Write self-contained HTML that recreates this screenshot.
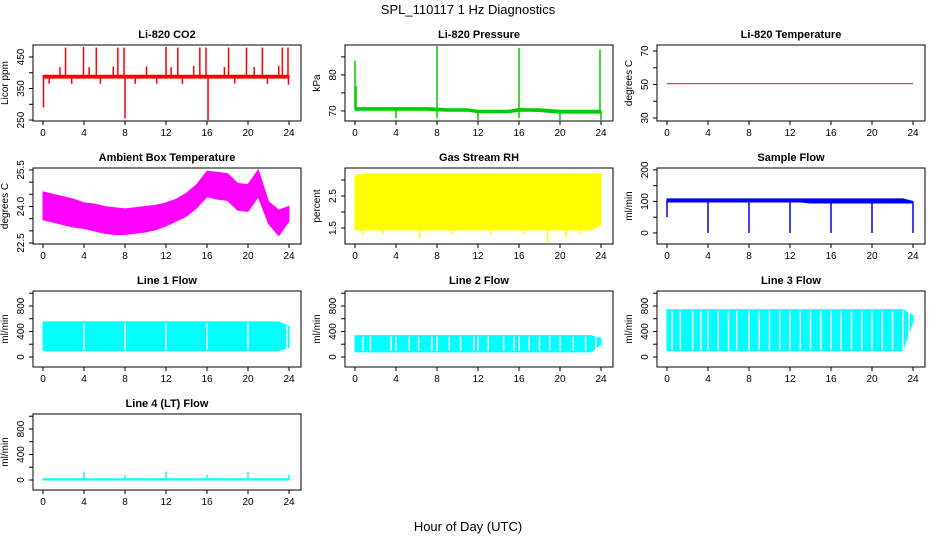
<!DOCTYPE html>
<html><head><meta charset="utf-8"><style>
html,body{margin:0;padding:0;background:#fff;}
svg{display:block;font-family:"Liberation Sans",sans-serif;}
</style></head><body>
<svg id="c" width="936" height="540" xmlns="http://www.w3.org/2000/svg">
<text x="468" y="14" text-anchor="middle" font-size="13">SPL_110117  1 Hz Diagnostics</text>
<text x="468" y="531" text-anchor="middle" font-size="13">Hour of Day (UTC)</text>
</svg>
<script>
const hours=[0,1,2,3,4,5,6,7,8,9,10,11,12,13,14,15,16,17,18,19,20,21,22,23,24];
const xTicks=[0,4,8,12,16,20,24];
// CO2
const co2Upper=[392,392,392,392,392,392,392,392,392,392,392,392,392,392,392,392,392,392,392,392,392,392,392,392,392];
const co2Lower=[383,383,383,383,383,383,383,383,383,383,383,383,383,383,383,383,383,383,383,383,383,383,383,383,383];
const co2SpikeHours=[2.2,3.95,5.2,7.3,7.9,12.0,13.15,15.3,15.9,18.1,19.85,21.4,23.35,23.9,1.65,4.5,6.85,10.1,12.5,14.7,17.7,20.6,23.0,8.0,16.1,0.05,0.6,2.8,5.6,9.0,11.1,13.6,18.7,21.9,23.95];
const co2SpikeVals=[480,482,480,480,480,482,480,480,480,480,480,480,480,480,418,418,420,420,418,422,418,418,422,255,250,290,365,365,365,365,365,365,365,365,362];
// Pressure
const presUpper=[70.9,70.9,70.9,70.9,70.9,70.9,70.9,70.9,70.8,70.6,70.6,70.6,70.2,70.2,70.2,70.2,70.7,70.6,70.6,70.4,70.2,70.2,70.2,70.2,70.2];
const presLower=[70.2,70.2,70.2,70.2,70.2,70.2,70.2,70.2,70.0,69.9,69.9,69.9,69.5,69.5,69.5,69.5,69.9,69.9,69.8,69.6,69.4,69.4,69.4,69.4,69.4];
const presSpikeHours=[0,0.1,8,16,23.9,4,8,12,16,20,24];
const presSpikeVals=[84,77,88,87.5,87,68,68,67.5,68,67.5,67.5];
// Temperature
const tempVals=[50.5,50.5,50.5,50.5,50.5,50.5,50.5,50.5,50.5,50.5,50.5,50.5,50.5,50.5,50.5,50.5,50.5,50.5,50.5,50.5,50.5,50.5,50.5,50.5,50.5];
// Ambient
const ambUpper=[24.6,24.5,24.4,24.3,24.15,24.1,24.0,23.95,23.9,23.95,24.0,24.05,24.15,24.3,24.55,24.9,25.45,25.4,25.35,24.95,24.9,25.5,24.2,23.85,24.0];
const ambLower=[23.45,23.35,23.25,23.15,23.1,23.0,22.9,22.85,22.85,22.9,22.95,23.05,23.2,23.4,23.6,23.95,24.4,24.3,24.25,23.85,23.8,24.4,23.3,22.8,23.4];
// RH
const rhUpper=[3.15,3.19,3.19,3.19,3.19,3.19,3.19,3.19,3.19,3.19,3.19,3.19,3.19,3.2,3.19,3.19,3.19,3.19,3.19,3.19,3.19,3.2,3.19,3.19,3.2];
const rhLower=[1.44,1.44,1.44,1.44,1.44,1.44,1.44,1.44,1.44,1.44,1.44,1.44,1.44,1.44,1.44,1.44,1.44,1.44,1.44,1.44,1.44,1.44,1.44,1.44,1.6];
const rhSpikeHours=[0.8,2.7,6.3,9.5,13.3,16.5,18.8,20.6,22];
const rhSpikeVals=[1.3,1.3,1.15,1.3,1.3,1.3,1.05,1.2,1.3];
// Sample flow
const sfUpper=[108,108,108,108,108,108,108,108,108,108,108,108,108,108,108,108,108,108,108,108,108,108,108,108,100];
const sfLower=[98,98,98,98,98,98,98,98,98,98,98,98,98,98,95,95,95,95,95,95,95,95,95,95,95];
const sfSpikeHours=[0,4,8,12,16,20,24];
const sfSpikeVals=[50,0,0,0,0,0,0];
// Line flows
const l1Upper=[550,550,550,550,550,550,550,550,550,550,550,550,550,550,550,550,550,550,550,550,550,550,550,550,480];
const l1Lower=[100,100,100,100,100,100,100,100,100,100,100,100,100,100,100,100,100,100,100,100,100,100,100,100,150];
const l1Gaps=[4,8,12,16,20,23.8];
const l2Upper=[335,335,335,335,335,335,335,335,335,335,335,335,335,335,335,335,335,335,335,335,335,335,335,335,290];
const l2Lower=[80,80,80,80,80,80,80,80,80,80,80,80,80,80,80,80,80,80,80,80,80,80,80,80,200];
const l2Gaps=[0.8,1.5,3.5,4,5.3,6.2,7.5,8,9.2,10.3,11.6,12,13,14.5,15.5,16,17,18,19,20,21.3,22.5,23.5];
const l3Upper=[740,740,740,740,740,740,740,740,740,740,740,740,740,740,740,740,740,740,740,740,740,740,740,740,650];
const l3Lower=[100,100,100,100,100,100,100,100,100,100,100,100,100,100,100,100,100,100,100,100,100,100,100,100,550];
const l3Gaps=[0.5,1.3,2.5,3.3,4,5,6,6.8,8,9,10,11,12,13,14,15,16,17,18,19,20,21,22,23,23.6];
const l4Upper=[20,20,20,20,20,20,20,20,20,20,20,20,20,20,20,20,20,20,20,20,20,20,20,20,20];
const l4Lower=[0,0,0,0,0,0,0,0,0,0,0,0,0,0,0,0,0,0,0,0,0,0,0,0,0];
const l4SpikeHours=[4,8,12,16,20,24];
const l4SpikeVals=[130,80,130,80,130,80];

const NS="http://www.w3.org/2000/svg";
const svg=document.getElementById('c');
function mk(tag,attrs,parent){const e=document.createElementNS(NS,tag);for(const k in attrs)e.setAttribute(k,attrs[k]);(parent||svg).appendChild(e);return e;}

function panel(o){
  const L=33+312*o.col,R=301+312*o.col,T=45+123*o.row,B=121+123*o.row;
  const g=mk('g',{});
  
  
  const sx=h=>43+312*o.col+h*(246/24);
  const sy=v=>B-(v-o.ylo)/(o.yhi-o.ylo)*(B-T);
  const t=mk('text',{x:(L+R)/2,y:T-7,'text-anchor':'middle','font-size':11,'font-weight':'bold'},g);
  t.textContent=o.title;
  
  
  if(o.upper){
    let pts=hours.map((h,i)=>sx(h)+','+sy(o.upper[i]));
    for(let i=hours.length-1;i>=0;i--)pts.push(sx(hours[i])+','+sy(o.lower[i]));
    const p=mk('polygon',{points:pts.join(' '),fill:o.color,stroke:o.color,'stroke-width':1},g);
    
    
  }
  if(o.line){
    const p=mk('polyline',{points:hours.map((h,i)=>sx(h)+','+sy(o.line[i])).join(' '),fill:'none',stroke:o.color,'stroke-width':1},g);
    
    
  }
  if(o.gaps){
    o.gaps.forEach(h=>{
      const i=Math.min(23,Math.floor(h));
      const l=mk('line',{x1:sx(h),x2:sx(h),y1:sy(o.upper[i])+1,y2:sy(o.lower[i])-1,stroke:'#fff','stroke-width':1.5},g);
      
      
    });
  }
  if(o.spH){
    o.spH.forEach((h,k)=>{
      const i=Math.min(24,Math.round(h));
      const base=(o.upper[i]+o.lower[i])/2;
      const l=mk('line',{x1:sx(h),x2:sx(h),y1:sy(base),y2:sy(o.spV[k]),stroke:o.color,'stroke-width':1.5},g);
      
      
    });
  }
  const b=mk('rect',{x:L,y:T,width:R-L,height:B-T,fill:'none',stroke:'#000','stroke-width':1},g);
  
  
  xTicks.forEach(h=>{
    mk('line',{x1:sx(h),x2:sx(h),y1:B,y2:B+4,stroke:'#000'},g);
    const tx=mk('text',{x:sx(h),y:B+15,'text-anchor':'middle','font-size':10},g);
    tx.textContent=h;
    
    
  });
  o.yt.forEach(v=>{
    mk('line',{x1:L-4,x2:L,y1:sy(v),y2:sy(v),stroke:'#000'},g);
  });
  o.yl.forEach(v=>{
    const tx=mk('text',{x:0,y:0,'text-anchor':'middle','font-size':10,transform:`translate(${L-9},${sy(v)}) rotate(-90)`},g);
    tx.textContent=v;
    
    
  });
  const yt=mk('text',{x:0,y:0,'text-anchor':'middle','font-size':10,transform:`translate(${L-25},${(T+B)/2}) rotate(-90)`},g);
  yt.textContent=o.ylab;
  
  
}

panel({name:'co2-panel',col:0,row:0,title:'Li-820 CO2',ylab:'Licor ppm',ylo:247,yhi:488,yt:[250,300,350,400,450],yl:['250','350','450'],color:'#ff0000',upper:co2Upper,lower:co2Lower,spH:co2SpikeHours,spV:co2SpikeVals});
panel({name:'pressure-panel',col:1,row:0,title:'Li-820 Pressure',ylab:'kPa',ylo:67.2,yhi:88.3,yt:[70,75,80,85],yl:['70','80'],color:'#00cc00',upper:presUpper,lower:presLower,spH:presSpikeHours,spV:presSpikeVals});
panel({name:'temperature-panel',col:2,row:0,title:'Li-820 Temperature',ylab:'degrees C',ylo:28.2,yhi:73.6,yt:[30,40,50,60,70],yl:['30','50','70'],color:'#cc00cc',line:tempVals});
panel({name:'ambient-temp-panel',col:0,row:1,title:'Ambient Box Temperature',ylab:'degrees C',ylo:22.46,yhi:25.58,yt:[22.5,23,23.5,24,24.5,25,25.5],yl:['22.5','24.0','25.5'],color:'#ff00ff',upper:ambUpper,lower:ambLower});
panel({name:'rh-panel',col:1,row:1,title:'Gas Stream RH',ylab:'percent',ylo:1.0,yhi:3.375,yt:[1.5,2,2.5,3],yl:['1.5','2.5'],color:'#ffff00',upper:rhUpper,lower:rhLower,spH:rhSpikeHours,spV:rhSpikeVals});
panel({name:'sample-flow-panel',col:2,row:1,title:'Sample Flow',ylab:'ml/min',ylo:-35,yhi:206,yt:[0,50,100,150,200],yl:['0','100','200'],color:'#0000ff',upper:sfUpper,lower:sfLower,spH:sfSpikeHours,spV:sfSpikeVals});
panel({name:'line1-flow-panel',col:0,row:2,title:'Line 1 Flow',ylab:'ml/min',ylo:-157,yhi:1035,yt:[0,200,400,600,800,1000],yl:['0','400','800'],color:'#00ffff',upper:l1Upper,lower:l1Lower,gaps:l1Gaps});
panel({name:'line2-flow-panel',col:1,row:2,title:'Line 2 Flow',ylab:'ml/min',ylo:-157,yhi:1035,yt:[0,200,400,600,800,1000],yl:['0','400','800'],color:'#00ffff',upper:l2Upper,lower:l2Lower,gaps:l2Gaps});
panel({name:'line3-flow-panel',col:2,row:2,title:'Line 3 Flow',ylab:'ml/min',ylo:-157,yhi:1035,yt:[0,200,400,600,800,1000],yl:['0','400','800'],color:'#00ffff',upper:l3Upper,lower:l3Lower,gaps:l3Gaps});
panel({name:'line4-flow-panel',col:0,row:3,title:'Line 4 (LT) Flow',ylab:'ml/min',ylo:-157,yhi:1035,yt:[0,200,400,600,800,1000],yl:['0','400','800'],color:'#00ffff',upper:l4Upper,lower:l4Lower,spH:l4SpikeHours,spV:l4SpikeVals});
</script>
</body></html>
